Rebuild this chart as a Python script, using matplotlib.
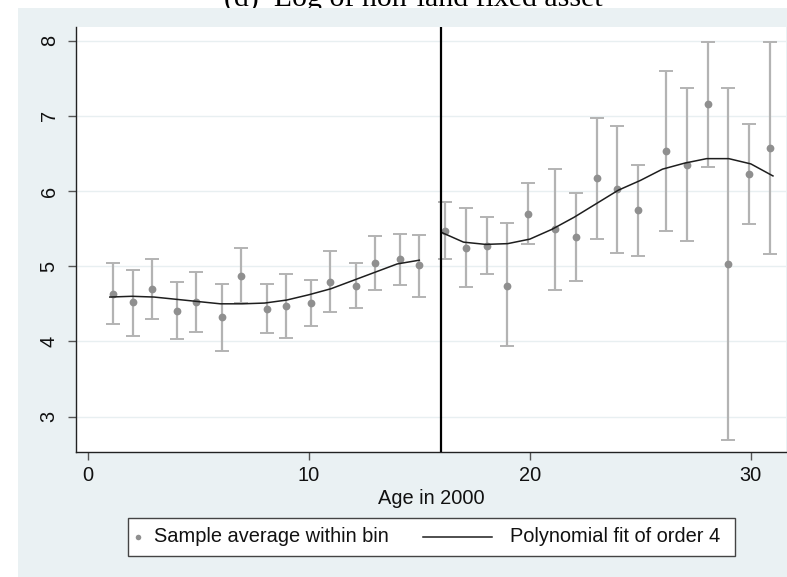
import matplotlib
matplotlib.use("Agg")
import matplotlib.pyplot as plt
from matplotlib.patches import Rectangle
from matplotlib.lines import Line2D

# Mean age within each bin and the sample average of log non-land fixed assets
bin_age = [1.16, 2.04, 2.90, 4.04, 4.90, 6.06, 6.94, 8.10, 8.96, 10.10, 10.96,
           12.13, 13.00, 14.14, 15.00, 16.17, 17.10, 18.05, 18.99, 19.91, 21.16,
           22.10, 23.03, 23.96, 24.91, 26.17, 27.10, 28.04, 28.97, 29.92, 30.86]
bin_mean = [4.63, 4.52, 4.70, 4.41, 4.53, 4.33, 4.87, 4.43, 4.47, 4.51, 4.79,
            4.74, 5.04, 5.09, 5.01, 5.47, 5.24, 5.27, 4.74, 5.70, 5.49,
            5.39, 6.17, 6.03, 5.75, 6.53, 6.35, 7.15, 5.03, 6.22, 6.57]
ci_upper = [5.04, 4.95, 5.10, 4.79, 4.92, 4.77, 5.24, 4.76, 4.89, 4.81, 5.20,
            5.04, 5.40, 5.43, 5.42, 5.86, 5.78, 5.66, 5.57, 6.10, 6.29,
            5.97, 6.97, 6.87, 6.35, 7.59, 7.37, 7.98, 7.37, 6.89, 7.98]
ci_lower = [4.23, 4.07, 4.30, 4.03, 4.13, 3.87, 4.51, 4.11, 4.05, 4.20, 4.39,
            4.44, 4.68, 4.75, 4.59, 5.09, 4.73, 4.89, 3.94, 5.30, 4.68,
            4.80, 5.36, 5.17, 5.14, 5.47, 5.33, 6.32, 2.69, 5.56, 5.16]

# Fourth-order polynomial fit on each side of the cutoff
fit_age_left = [1, 2, 3, 4, 5, 6, 7, 8, 9, 10, 11, 12, 13, 14, 15]
fit_left = [4.59, 4.60, 4.59, 4.56, 4.53, 4.50, 4.50, 4.51, 4.55, 4.62, 4.70,
            4.81, 4.92, 5.03, 5.08]
fit_age_right = [16, 17, 18, 19, 20, 21, 22, 23, 24, 25, 26, 27, 28, 29, 30, 31]
fit_right = [5.45, 5.32, 5.29, 5.30, 5.36, 5.49, 5.65, 5.83, 6.01, 6.14, 6.29,
             6.37, 6.43, 6.43, 6.36, 6.20]

cutoff = 16
x_ticks = [0, 10, 20, 30]
y_ticks = [3, 4, 5, 6, 7, 8]

W, H = 787, 577
fig = plt.figure(figsize=(W / 100, H / 100), dpi=100, facecolor="white")
plt.rcParams["font.family"] = ["Liberation Sans", "DejaVu Sans"]

bg = "#eaf1f3"
# graph region background
fig.patches.append(Rectangle((18 / W, 0), 1 - 18 / W, 1 - 8 / H,
                             transform=fig.transFigure, facecolor=bg,
                             edgecolor="none", zorder=1))
# panel title, partly hidden under the graph region
fig.text(413 / W, 1 - 7 / H, "(d)  Log of non-land fixed asset",
         ha="center", va="baseline", fontsize=21.5,
         family=["Liberation Serif", "DejaVu Serif"], zorder=0.5)

ax = fig.add_axes([76 / W, 1 - 452 / H, (786 - 76) / W, (452 - 27) / H])
ax.set_zorder(2)
ax.set_facecolor("white")

ax.errorbar(bin_age, bin_mean,
            yerr=[[m - lo for m, lo in zip(bin_mean, ci_lower)],
                  [hi - m for m, hi in zip(bin_mean, ci_upper)]],
            fmt="none", ecolor="#b3b3b3", elinewidth=1.6, capsize=5,
            capthick=1.4, zorder=2)
ax.plot(bin_age, bin_mean, "o", color="#8f8f8f", markersize=5.6,
        markeredgewidth=0, zorder=3)
ax.plot(fit_age_left, fit_left, color="#1e1e1e", lw=1.1, zorder=4)
ax.plot(fit_age_right, fit_right, color="#1e1e1e", lw=1.1, zorder=4)
ax.axvline(cutoff, color="black", lw=1.6, zorder=5)

ax.set_xlim(-0.53, 31.59)
ax.set_ylim(2.53, 8.18)
ax.set_xticks(x_ticks)
ax.set_yticks(y_ticks)
ax.set_yticklabels([str(t) for t in y_ticks], rotation=90, va="center")
ax.grid(axis="y", color="#e8eff1", lw=1.0, zorder=0)
ax.set_axisbelow(True)
for side in ("top", "right"):
    ax.spines[side].set_visible(False)
for side in ("left", "bottom"):
    ax.spines[side].set_color("#222222")
    ax.spines[side].set_linewidth(1.0)
ax.tick_params(axis="both", direction="out", length=6, width=1.0,
               color="#555555", labelsize=14.4, labelcolor="#111111")
ax.tick_params(axis="y", pad=6.5)
ax.tick_params(axis="x", pad=4)
ax.set_xlabel("Age in 2000", fontsize=14.4, color="#111111", labelpad=3)

# legend box
lx0, lx1, ly0, ly1 = 128, 735, 518, 556
fig.patches.append(Rectangle((lx0 / W, 1 - ly1 / H), (lx1 - lx0) / W,
                             (ly1 - ly0) / H, transform=fig.transFigure,
                             facecolor="white", edgecolor="#444444",
                             lw=1.0, zorder=3))
ly = 1 - 537 / H
fig.lines.append(Line2D([138 / W], [ly], marker="o", color="#8f8f8f",
                        markersize=4, markeredgewidth=0, linestyle="none",
                        transform=fig.transFigure, zorder=4))
fig.text(154 / W, ly, "Sample average within bin", ha="left", va="center",
         fontsize=14.4, color="#111111", zorder=4)
fig.lines.append(Line2D([423 / W, 492 / W], [ly, ly], color="#1e1e1e", lw=1.1,
                        transform=fig.transFigure, zorder=4))
fig.text(510 / W, ly, "Polynomial fit of order 4", ha="left", va="center",
         fontsize=14.4, color="#111111", zorder=4)

fig.savefig("out.png", dpi=100, facecolor="white")
